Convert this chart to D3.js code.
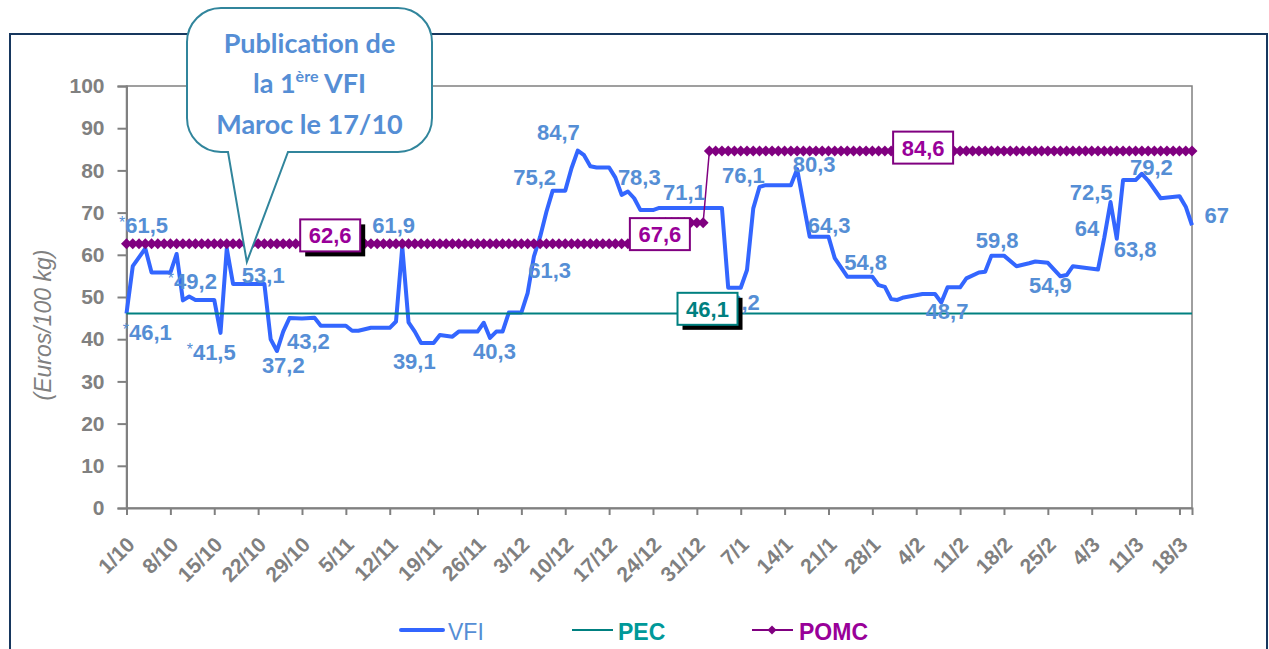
<!DOCTYPE html>
<html>
<head>
<meta charset="utf-8">
<title>VFI - PEC - POMC</title>
<script src="https://d3js.org/d3.v7.min.js"></script>
<style>
  body { margin: 0; background: #fff; }
  svg text { font-family: "Liberation Sans", Arial, sans-serif; }
</style>
</head>
<body>
<div id="chart"></div>
<script>
// weekly tick labels, day 0 = 1/10
var weekLabels = ["1/10","8/10","15/10","22/10","29/10","5/11","12/11","19/11","26/11",
  "3/12","10/12","17/12","24/12","31/12","7/1","14/1","21/1","28/1","4/2","11/2",
  "18/2","25/2","4/3","11/3","18/3"];

// VFI (day since 1/10, euros/100 kg)
var vfiDays = [0,1,3,4,7,8,9,10,11,14,
  15,16,17,22,23,24,25,26,28,30,
  31,35,36,37,39,42,43,44,45,46,
  47,49,50,52,53,56,57,58,59,60,
  61,63,64,65,66,67,68,70,71,72,
  73,74,75,77,78,79,80,81,82,84,
  85,95,96,98,99,100,101,102,106,107,
  108,109,112,113,115,119,120,121,122,123,
  124,127,129,130,131,133,134,136,137,138,
  140,142,144,145,147,149,150,151,155,156,
  157,158,159,161,162,163,165,168,169,170];
var vfiValues = [46.1,57.3,61.5,55.8,55.8,60.2,49.2,50.1,49.3,49.3,
  41.5,61.5,53.1,53.1,40.0,37.2,41.8,45.0,44.9,45.1,
  43.2,43.2,42.0,42.0,42.7,42.7,44.2,61.9,44.0,41.8,
  39.1,39.1,41.0,40.6,41.8,41.8,43.9,40.3,41.8,41.8,
  46.3,46.3,50.9,59.6,64.3,70.2,75.2,75.2,80.5,84.7,
  83.6,81.0,80.7,80.7,78.3,74.2,75.0,73.4,70.6,70.6,
  71.1,71.1,52.2,52.2,56.4,71.0,76.1,76.5,76.5,80.3,
  72.2,64.3,64.3,59.2,54.8,54.8,52.8,52.4,49.5,49.3,
  49.9,50.7,50.7,48.7,52.3,52.3,54.4,55.8,56.0,59.8,
  59.8,57.3,58.0,58.4,58.1,54.9,55.2,57.3,56.5,64.0,
  72.5,63.8,77.7,77.7,79.2,77.6,73.4,73.9,71.4,67.0];

// PEC
var pecDays = [0, 170];
var pecValues = [46.1, 46.1];

// POMC, daily markers, constant by period
var pomcFrom = [0, 85, 93];
var pomcTo = [84, 92, 170];
var pomcLevels = [62.6, 67.6, 84.6];

// VFI value labels (text left/baseline in data units)
var vfiLabelText = ["*61,5","*46,1","*49,2","*41,5","53,1","37,2","43,2","61,9","39,1","40,3",
  "61,3","75,2","84,7","78,3","71,1","76,1","52,2","80,3","64,3","54,8",
  "48,7","59,8","54,9","64","72,5","63,8","79,2","67"];
var vfiLabelDay = [-1.2,-0.6,6.6,9.6,18.4,21.6,25.6,39.2,42.5,55.3,
  64.1,61.7,65.5,78.4,85.6,95.0,94.2,106.3,108.7,114.5,
  127.5,135.5,144.0,151.3,150.5,157.5,160.1,172.0];
var vfiLabelValue = [65.2,39.8,51.9,35.1,53.3,32.0,37.7,65.2,32.9,35.3,
  54.5,76.5,87.2,76.5,73.0,77.0,46.9,79.6,65.2,56.4,
  44.8,61.6,50.9,64.5,73.0,59.5,78.9,67.5];

// boxed labels (centre in data units)
var boxText = ["62,6", "67,6", "84,6", "46,1"];
var boxDay = [32.5, 85.1, 127.1, 92.7];
var boxValue = [64.6, 64.9, 85.4, 47.2];

var width = 1269, height = 649;
var vfiColor = "#3366ff", labelColor = "#558ed5",
    pecColor = "#008080", pomcColor = "#800080", pomcText = "#990099",
    axisColor = "#808080";

var svg = d3.select("#chart").append("svg")
  .attr("width", width)
  .attr("height", height);

// outer frame
svg.append("rect")
  .attr("x", 10).attr("y", 34)
  .attr("width", 1257).attr("height", 640)
  .attr("fill", "none")
  .attr("stroke", "#17375e")
  .attr("stroke-width", 2);

var x = d3.scaleLinear().domain([0, 170]).range([126.5, 1192]);
var y = d3.scaleLinear().domain([0, 100]).range([508, 86]);

// plot border
svg.append("rect")
  .attr("x", x(0)).attr("y", y(100))
  .attr("width", x(170) - x(0)).attr("height", y(0) - y(100))
  .attr("fill", "none")
  .attr("stroke", axisColor)
  .attr("stroke-width", 1.5);

var yAxis = svg.append("g")
  .attr("transform", "translate(" + x(0) + ",0)")
  .call(d3.axisLeft(y).tickValues(d3.range(0, 101, 10)).tickSize(9).tickPadding(13));
yAxis.selectAll("text")
  .attr("fill", axisColor)
  .attr("font-size", 21)
  .attr("font-weight", "bold");

var xAxis = svg.append("g")
  .attr("transform", "translate(0," + y(0) + ")")
  .call(d3.axisBottom(x)
    .tickValues(d3.range(0, 169, 7))
    .tickFormat(function(d, i) { return weekLabels[i]; })
    .tickSize(7));
xAxis.selectAll("text")
  .attr("fill", axisColor)
  .attr("font-size", 21)
  .attr("font-weight", "bold")
  .attr("text-anchor", "end")
  .attr("dy", null)
  .attr("y", null)
  .attr("transform", "translate(9,38) rotate(-45)");

svg.selectAll(".domain, .tick line")
  .attr("stroke", axisColor)
  .attr("stroke-width", 2);

// y axis title
svg.append("text")
  .attr("transform", "translate(51,325) rotate(-90)")
  .attr("text-anchor", "middle")
  .attr("fill", axisColor)
  .attr("font-size", 23)
  .attr("font-style", "italic")
  .text("(Euros/100 kg)");

var line = d3.line()
  .x(function(d) { return x(d[0]); })
  .y(function(d) { return y(d[1]); });

// VFI
svg.append("path")
  .datum(d3.zip(vfiDays, vfiValues))
  .attr("d", line)
  .attr("fill", "none")
  .attr("stroke", vfiColor)
  .attr("stroke-width", 4)
  .attr("stroke-linejoin", "round");

// PEC
svg.append("path")
  .datum(d3.zip(pecDays, pecValues))
  .attr("d", line)
  .attr("fill", "none")
  .attr("stroke", pecColor)
  .attr("stroke-width", 2);

// POMC
var pomcPoints = [];
pomcLevels.forEach(function(v, i) {
  d3.range(pomcFrom[i], pomcTo[i] + 1).forEach(function(d) { pomcPoints.push([d, v]); });
});
svg.append("path")
  .datum(pomcPoints)
  .attr("d", line)
  .attr("fill", "none")
  .attr("stroke", pomcColor)
  .attr("stroke-width", 1.5);
var diamond = d3.symbol().type(d3.symbolSquare).size(60);
svg.append("g").selectAll("path")
  .data(pomcPoints)
  .join("path")
  .attr("d", diamond)
  .attr("transform", function(d) { return "translate(" + x(d[0]) + "," + y(d[1]) + ") rotate(45)"; })
  .attr("fill", pomcColor);

// VFI labels
var lbl = svg.append("g").selectAll("text")
  .data(vfiLabelText)
  .join("text")
  .attr("x", function(d, i) { return x(vfiLabelDay[i]); })
  .attr("y", function(d, i) { return y(vfiLabelValue[i]); })
  .attr("fill", labelColor)
  .attr("font-size", 22)
  .attr("font-weight", "bold");
lbl.each(function(t) {
  var el = d3.select(this);
  if (t.charAt(0) === "*") {
    el.append("tspan").attr("font-size", 16).attr("font-weight", "normal").attr("dy", -5).text("*");
    el.append("tspan").attr("dy", 5).text(t.slice(1));
  } else {
    el.text(t);
  }
});

// boxed labels
var boxW = 60, boxH = 32;
var boxStroke = [pomcColor, pomcColor, pomcColor, pecColor];
var boxFill = [pomcText, pomcText, pomcText, pecColor];
var boxShadow = [true, false, false, true];
boxText.forEach(function(t, i) {
  var cx = x(boxDay[i]), cy = y(boxValue[i]);
  if (boxShadow[i]) {
    svg.append("rect")
      .attr("x", cx - boxW / 2 + 5).attr("y", cy - boxH / 2 + 5)
      .attr("width", boxW).attr("height", boxH)
      .attr("fill", "#000");
  }
  svg.append("rect")
    .attr("x", cx - boxW / 2).attr("y", cy - boxH / 2)
    .attr("width", boxW).attr("height", boxH)
    .attr("fill", "#fff")
    .attr("stroke", boxStroke[i])
    .attr("stroke-width", 2);
  svg.append("text")
    .attr("x", cx).attr("y", cy + 8)
    .attr("text-anchor", "middle")
    .attr("fill", boxFill[i])
    .attr("font-size", 22)
    .attr("font-weight", "bold")
    .text(t);
});

// callout
var bx0 = 187, by0 = 8, bx1 = 432, by1 = 152, r = 34;
var tipX = x(19.2), tipY = y(58.3);
var callout = d3.path();
callout.moveTo(bx0 + r, by0);
callout.lineTo(bx1 - r, by0);
callout.arcTo(bx1, by0, bx1, by0 + r, r);
callout.lineTo(bx1, by1 - r);
callout.arcTo(bx1, by1, bx1 - r, by1, r);
callout.lineTo(288, by1);
callout.lineTo(tipX, tipY);
callout.lineTo(228, by1);
callout.lineTo(bx0 + r, by1);
callout.arcTo(bx0, by1, bx0, by1 - r, r);
callout.lineTo(bx0, by0 + r);
callout.arcTo(bx0, by0, bx0 + r, by0, r);
callout.closePath();
svg.append("path")
  .attr("d", callout.toString())
  .attr("fill", "#fff")
  .attr("stroke", "#31859c")
  .attr("stroke-width", 2);

var cText = svg.append("g")
  .attr("fill", labelColor)
  .attr("font-weight", "bold")
  .attr("text-anchor", "middle")
  .style("font-family", "Lato, 'Open Sans', sans-serif")
  .attr("font-size", 27);
cText.append("text").attr("x", 309.5).attr("y", 53).style("font-family", "inherit").text("Publication de");
var l2 = cText.append("text").attr("x", 309.5).attr("y", 93).style("font-family", "inherit");
l2.append("tspan").text("la 1");
l2.append("tspan").attr("font-size", 16).attr("dy", -11).text("ère");
l2.append("tspan").attr("dy", 11).text(" VFI");
cText.append("text").attr("x", 309.5).attr("y", 134).style("font-family", "inherit").text("Maroc le 17/10");

// legend
var legend = svg.append("g").attr("transform", "translate(0,630)");
legend.append("line").attr("x1", 401).attr("x2", 443)
  .attr("stroke", vfiColor).attr("stroke-width", 4).attr("stroke-linecap", "round");
legend.append("text").attr("x", 448).attr("y", 10)
  .attr("fill", labelColor).attr("font-size", 23).text("VFI");
legend.append("line").attr("x1", 572).attr("x2", 613)
  .attr("stroke", pecColor).attr("stroke-width", 2);
legend.append("text").attr("x", 618).attr("y", 10)
  .attr("fill", "#009999").attr("font-size", 23).attr("font-weight", "bold").text("PEC");
legend.append("line").attr("x1", 752).attr("x2", 793)
  .attr("stroke", pomcColor).attr("stroke-width", 2);
legend.append("path").attr("d", d3.symbol().type(d3.symbolSquare).size(40))
  .attr("transform", "translate(772,0) rotate(45)").attr("fill", pomcColor);
legend.append("text").attr("x", 799).attr("y", 10)
  .attr("fill", pomcText).attr("font-size", 23).attr("font-weight", "bold").text("POMC");
</script>
</body>
</html>
